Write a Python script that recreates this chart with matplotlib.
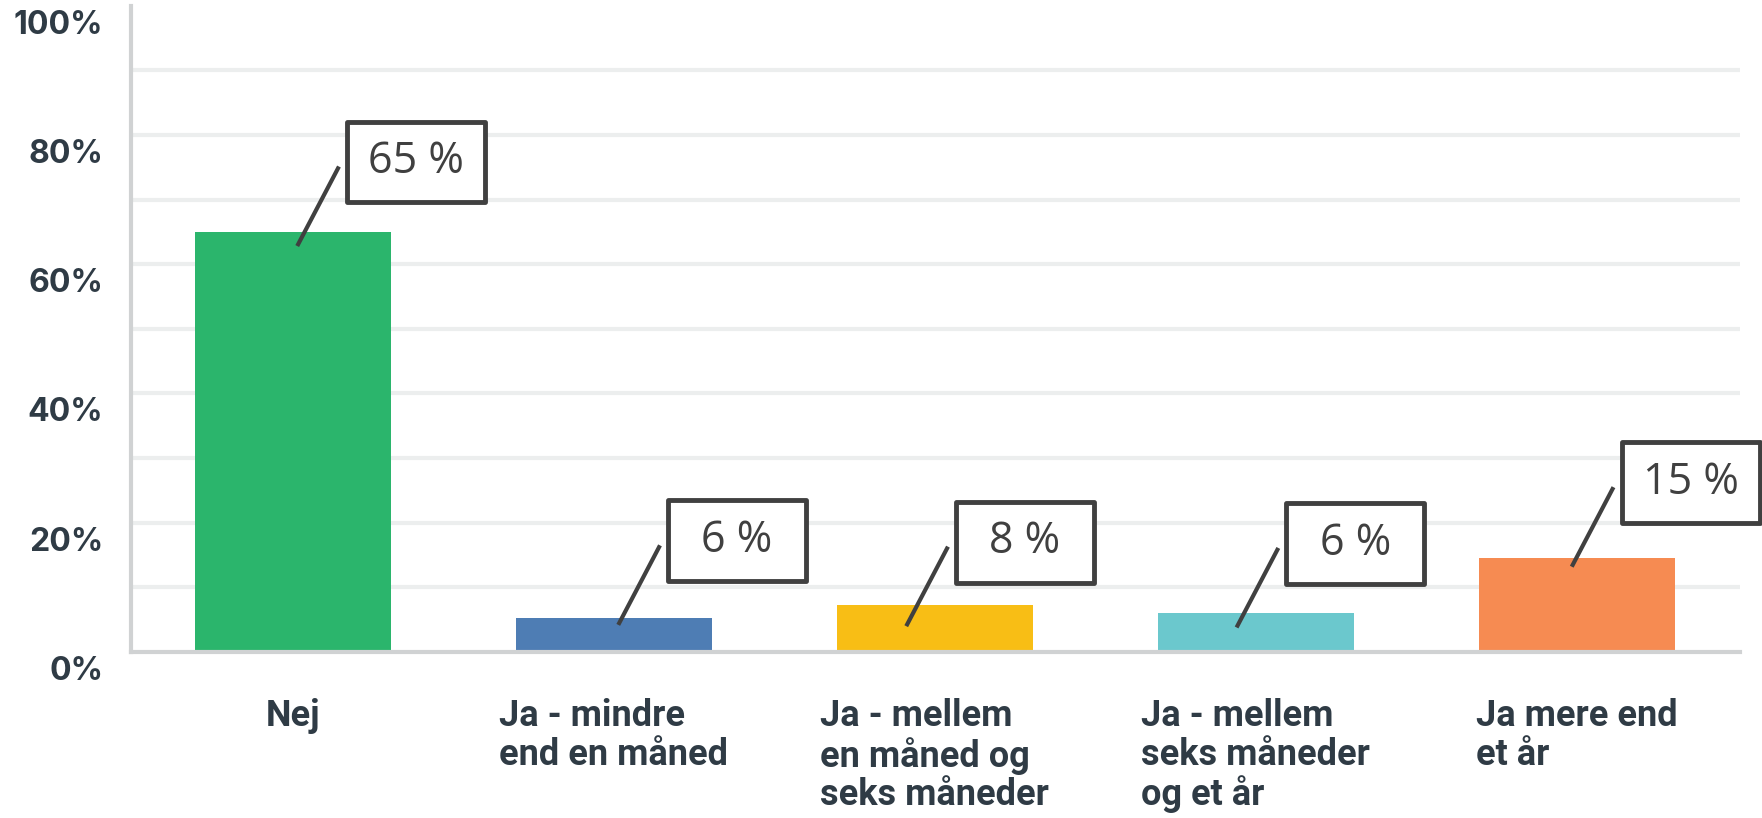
import numpy as np
import matplotlib.pyplot as plt
from matplotlib.patches import Rectangle
from matplotlib.transforms import ScaledTranslation

# データ
categories = ["Nej", "Ja - mindre\nend en måned", "Ja - mellem\nen måned og\nseks måneder",
              "Ja - mellem\nseks måneder\nog et år", "Ja mere end\net år"]
values = [65.0, 5.3, 7.2, 6.1, 14.6]
labels = ["65 %", "6 %", "8 %", "6 %", "15 %"]
colors = ["#2bb56c", "#4e7db4", "#f8be15", "#6bc8cd", "#f68b52"]
yticks = [0, 20, 40, 60, 80, 100]
ytick_labels = ["0%", "20%", "40%", "60%", "80%", "100%"]
grid_levels = [10, 20, 30, 40, 50, 60, 70, 80, 90]

# ラベル配置 (棒の中心・高さからのずれ)
line_start = [(0.014, -2.2), (0.014, -1.1), (-0.089, -3.2), (-0.060, -2.3), (-0.016, -1.4)]
line_dx, line_dy = 0.13, 12.3
box_off = (0.24, 0.7)
box_w, box_h = 0.43, 12.5

text_col = "#2f3b45"
fig = plt.figure(figsize=(17.62, 8.18), dpi=100)
ax = fig.add_axes([0.0743, 0.2029, 0.9132, 0.7903])

x = np.arange(len(categories))
for lv in grid_levels:
    ax.axhline(lv, color="#eceeee", lw=3, zorder=0)
ax.bar(x, values, width=0.61, color=colors, zorder=2)

ax.set_xlim(-0.504, 4.508)
ax.set_ylim(0, 100)
for s in ["top", "right"]:
    ax.spines[s].set_visible(False)
for s in ["left", "bottom"]:
    ax.spines[s].set_color("#d0d2d3")
    ax.spines[s].set_linewidth(3)

ax.set_yticks(yticks)
ax.set_yticklabels(ytick_labels, fontsize=23, fontweight="bold", color=text_col, family="Inter")
ax.tick_params(axis="y", length=0, pad=20)
off = ScaledTranslation(0, -16 / 100, fig.dpi_scale_trans)
for t in ax.get_yticklabels():
    t.set_transform(t.get_transform() + off)

ax.set_xticks(x)
ax.set_xticklabels(categories, fontsize=26, fontweight="bold", color=text_col,
                   family="Roboto", multialignment="left", linespacing=1.1, va="top")
ax.tick_params(axis="x", length=0, pad=33)

# 値ラベル
for i, v in enumerate(values):
    sx, sy = i + line_start[i][0], v + line_start[i][1]
    ex, ey = sx + line_dx, sy + line_dy
    ax.plot([sx, ex], [sy, ey], color="#404040", lw=3, solid_capstyle="butt", zorder=4, clip_on=False)
    cx, cy = ex + box_off[0], ey + box_off[1]
    ax.add_patch(Rectangle((cx - box_w / 2, cy - box_h / 2), box_w, box_h, facecolor="white",
                           edgecolor="#404040", lw=3.5, joinstyle="round", zorder=5, clip_on=False))
    ax.text(cx, cy, labels[i], ha="center", va="center", fontsize=31, color="#404040",
            family="Open Sans", zorder=6, clip_on=False)

plt.savefig("out.png", dpi=100)
